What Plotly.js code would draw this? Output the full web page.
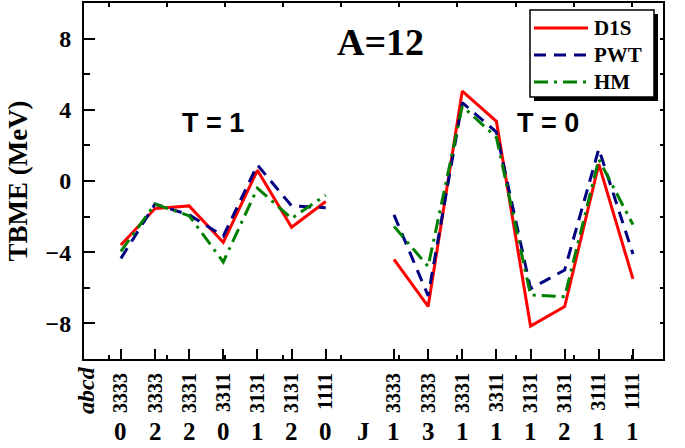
<!DOCTYPE html>
<html>
<head>
<meta charset="utf-8">
<script src="https://cdn.plot.ly/plotly-3.0.1.min.js"></script>
<style>html,body{margin:0;padding:0;background:#fff}</style>
</head>
<body>
<div id="chart" style="width:685px;height:448px"></div>
<script>
// Two-body matrix elements for A=12, grouped by isospin
const abcdT1 = ['3333', '3333', '3331', '3311', '3131', '3131', '1111'];
const jT1 = [0, 2, 2, 0, 1, 2, 0];
const abcdT0 = ['3333', '3333', '3331', '3311', '3131', '3131', '3111', '1111'];
const jT0 = [1, 3, 1, 1, 1, 2, 1, 1];

const d1sT1 = [-3.6, -1.55, -1.4, -3.45, 0.6, -2.6, -1.15];
const pwtT1 = [-4.35, -1.3, -1.9, -3.1, 0.9, -1.4, -1.5];
const hmT1  = [-3.95, -1.3, -1.95, -4.55, -0.4, -2.1, -0.8];

const d1sT0 = [-4.4, -7.05, 5.05, 3.35, -8.15, -7.05, 0.95, -5.5];
const pwtT0 = [-1.9, -6.45, 4.4, 2.75, -6.05, -5.0, 1.8, -4.1];
const hmT0  = [-2.55, -4.8, 4.2, 2.45, -6.4, -6.5, 1.22, -2.45];

const seriesNames = ['D1S', 'PWT', 'HM'];
const seriesStyles = [
  {color: '#ff0000', width: 3, dash: 'solid'},
  {color: '#000080', width: 3, dash: '12px,8px'},
  {color: '#008000', width: 3, dash: '14px,6px,3px,6px'}
];

const serif = 'Liberation Serif, Times New Roman, serif';
const sans = 'Liberation Sans, Arial, sans-serif';

// x positions: T=1 block, one empty slot, then T=0 block
const posT1 = abcdT1.map((_, i) => i + 1);
const gapPos = abcdT1.length + 1;
const posT0 = abcdT0.map((_, i) => gapPos + 1 + i);
const xAll = [...posT1, gapPos, ...posT0];

const valuesT1 = [d1sT1, pwtT1, hmT1];
const valuesT0 = [d1sT0, pwtT0, hmT0];

const traces = seriesNames.map((name, k) => ({
  type: 'scatter', mode: 'lines', name: name,
  x: xAll, y: [...valuesT1[k], null, ...valuesT0[k]],
  connectgaps: false, showlegend: false,
  line: seriesStyles[k]
}));
// empty trace so the secondary (top/right) tick axes are drawn
traces.push({type: 'scatter', mode: 'lines', x: [], y: [], xaxis: 'x2', yaxis: 'y2',
             showlegend: false, hoverinfo: 'skip'});

const tickVals = [...posT1, ...posT0];
const tickText = [...abcdT1, ...abcdT0];

// plot area in pixels, used to place the framed legend box
const M = {l: 84, r: 22, t: 3, b: 89};
const W = 685, H = 448;
const pw = W - M.l - M.r, ph = H - M.t - M.b;
const px = x => (x - M.l) / pw;
const py = y => 1 - (y - M.t) / ph;

const annotations = [];
[...jT1, ...jT0].forEach((j, i) => {
  annotations.push({
    x: tickVals[i], xref: 'x', y: py(432), yref: 'paper',
    xanchor: 'center', yanchor: 'middle',
    text: '<b>' + j + '</b>', showarrow: false,
    font: {family: serif, size: 25, color: '#000'}
  });
});
annotations.push(
  {x: px(363), xref: 'paper', y: py(432), yref: 'paper', xanchor: 'center', yanchor: 'middle',
   text: '<b>J</b>', showarrow: false, font: {family: serif, size: 25, color: '#000'}},
  {x: px(86), xref: 'paper', y: py(390), yref: 'paper', xanchor: 'center', yanchor: 'middle',
   text: '<b><i>abcd</i></b>', showarrow: false, textangle: -90,
   font: {family: serif, size: 24, color: '#000'}},
  {x: 8.6, xref: 'x', y: 7.8, yref: 'y', xanchor: 'center', yanchor: 'middle',
   text: '<b>A=12</b>', showarrow: false, font: {family: serif, size: 38, color: '#000'}},
  {x: 3.7, xref: 'x', y: 3.25, yref: 'y', xanchor: 'center', yanchor: 'middle',
   text: '<b>T = 1</b>', showarrow: false, font: {family: sans, size: 27, color: '#000'}},
  {x: 13.5, xref: 'x', y: 3.25, yref: 'y', xanchor: 'center', yanchor: 'middle',
   text: '<b>T = 0</b>', showarrow: false, font: {family: sans, size: 27, color: '#000'}}
);

// framed legend with drop shadow
const box = {x0: 530, x1: 654, y0: 10, y1: 97};
const shadow = 4;
const rowY = [28, 55, 82];
const shapes = [
  {type: 'rect', xref: 'paper', yref: 'paper', layer: 'above',
   x0: px(box.x0 + shadow), x1: px(box.x1 + shadow), y0: py(box.y1 + shadow), y1: py(box.y0 + shadow),
   fillcolor: '#000', line: {width: 0}},
  {type: 'rect', xref: 'paper', yref: 'paper', layer: 'above',
   x0: px(box.x0), x1: px(box.x1), y0: py(box.y1), y1: py(box.y0),
   fillcolor: '#fff', line: {color: '#000', width: 1.5}}
];
seriesNames.forEach((name, k) => {
  shapes.push({type: 'line', xref: 'paper', yref: 'paper', layer: 'above',
    x0: px(534), x1: px(588), y0: py(rowY[k]), y1: py(rowY[k]),
    line: seriesStyles[k]});
  annotations.push({x: px(592), xref: 'paper', y: py(rowY[k]), yref: 'paper',
    xanchor: 'left', yanchor: 'middle', showarrow: false,
    text: '<b>' + name + '</b>', font: {family: serif, size: 21, color: '#000'}});
});

const xRange = [-0.08, 16.88];
const yRange = [-10, 10];

const layout = {
  width: W, height: H,
  margin: M,
  paper_bgcolor: '#fff', plot_bgcolor: '#fff',
  showlegend: false,
  xaxis: {
    range: xRange, showgrid: false, zeroline: false,
    showline: true, linecolor: '#000', linewidth: 2, mirror: true,
    tickmode: 'array', tickvals: tickVals, ticktext: tickText,
    ticks: 'inside', ticklen: 10, tickwidth: 2, tickcolor: '#000',
    tickangle: -90, ticklabelstandoff: 4,
    tickfont: {family: serif, size: 20, color: '#000', weight: 'bold'}
  },
  xaxis2: {
    overlaying: 'x', side: 'top', range: xRange, anchor: 'y2',
    showgrid: false, zeroline: false, showline: false,
    tick0: 0.648, dtick: 1.702, ticks: 'inside', ticklen: 4, tickwidth: 2,
    tickcolor: '#000', showticklabels: false, mirror: 'ticks'
  },
  yaxis: {
    range: yRange, showgrid: false, zeroline: false,
    showline: true, linecolor: '#000', linewidth: 2, mirror: true,
    tick0: 0, dtick: 4, ticks: 'inside', ticklen: 11, tickwidth: 2, tickcolor: '#000',
    minor: {dtick: 2, ticks: 'inside', ticklen: 6, tickwidth: 2, tickcolor: '#000', showgrid: false},
    ticklabelstandoff: 6,
    tickfont: {family: serif, size: 24, color: '#000', weight: 'bold'},
    title: {text: 'TBME (MeV)', standoff: 10,
            font: {family: serif, size: 27, color: '#000', weight: 'bold'}}
  },
  yaxis2: {
    overlaying: 'y', side: 'right', range: yRange, anchor: 'x2',
    showgrid: false, zeroline: false, showline: false,
    tick0: 0, dtick: 2, ticks: 'inside', ticklen: 3, tickwidth: 2,
    tickcolor: '#000', showticklabels: false
  },
  shapes: shapes,
  annotations: annotations
};

Plotly.newPlot('chart', traces, layout, {displayModeBar: false, staticPlot: true});
</script>
</body>
</html>
